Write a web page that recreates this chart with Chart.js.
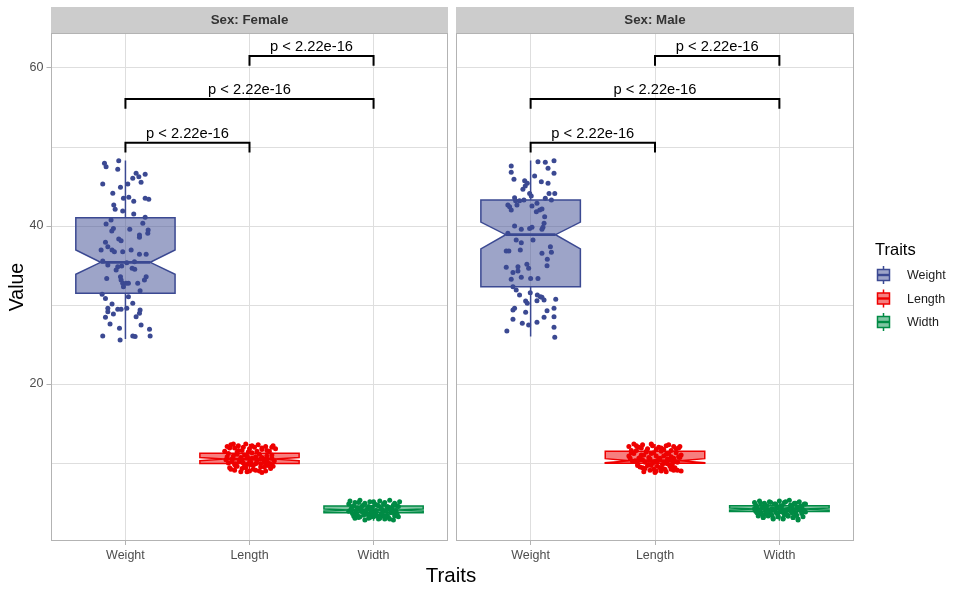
<!DOCTYPE html>
<html><head><meta charset="utf-8">
<script src="https://cdn.jsdelivr.net/npm/chart.js@4.4.1/dist/chart.umd.min.js"></script>
<style>
html,body{margin:0;padding:0;background:#fff;}
#wrap{position:relative;width:960px;height:593px;overflow:hidden;font-family:"Liberation Sans",Arial,sans-serif;}
#c1{position:absolute;left:0;top:0;}
#c2{position:absolute;left:452px;top:0;}
#xt{position:absolute;left:0;width:902px;top:563px;line-height:24px;text-align:center;font-size:20.5px;color:#000;}
</style></head><body>
<div id="wrap">
<canvas id="c1" width="452" height="593"></canvas>
<canvas id="c2" width="508" height="593"></canvas>
<div id="xt">Traits</div>
</div>
<script>
// ---------- data ----------
const categories = ['Weight','Length','Width'];
const panelTitles = ['Sex: Female','Sex: Male'];
const yTicks = [10,20,30,40,50,60];
const yLabels = [20,40,60];
const pLabel = 'p < 2.22e-16';
const bracketFrom = [1,1,2];
const bracketTo = [2,3,3];
const bracketY = [50.54,56.08,61.52];
const bracketDrop = 1.25;

// box statistics per category (Weight, Length, Width)
const femaleLow = [25.7, 8.8, 2.7];
const femaleQ1 = [31.5, 9.95, 3.71];
const femaleMed = [35.4, 10.5, 4.05];
const femaleQ3 = [41.05, 11.25, 4.56];
const femaleHigh = [48.3, 12.4, 5.3];
const femaleNotchLo = [33.9, 10.3, 3.92];
const femaleNotchHi = [36.96, 10.7, 4.18];

const maleLow = [26.0, 8.8, 2.7];
const maleQ1 = [32.3, 9.98, 3.86];
const maleMed = [38.9, 10.3, 4.18];
const maleQ3 = [43.3, 11.5, 4.6];
const maleHigh = [48.3, 12.4, 5.3];
const maleNotchLo = [37.1, 10.05, 4.05];
const maleNotchHi = [40.5, 10.55, 4.31];

// jittered points: horizontal jitter offset and value
const fWeightDx = [-0.169,-0.156,-0.054,-0.062,0.086,0.059,0.108,0.159,0.126,-0.183,0.019,-0.040,-0.102,-0.016,0.027,0.159,0.188,0.067,-0.094,-0.083,-0.022,0.067,0.159,-0.116,-0.156,-0.097,-0.110,0.035,0.140,0.183,0.180,0.113,0.113,-0.054,-0.035,-0.161,-0.142,-0.196,-0.108,-0.089,0.046,-0.022,0.113,0.167,-0.183,-0.142,-0.062,-0.075,-0.030,0.054,0.075,0.011,0.073,-0.151,-0.040,-0.035,0.167,0.153,-0.022,-0.016,0.005,0.024,0.099,0.118,-0.188,-0.161,0.024,0.059,-0.108,-0.142,-0.142,-0.062,-0.035,0.011,0.118,0.113,-0.161,-0.097,-0.124,0.086,0.126,-0.048,0.194,-0.183,-0.043,0.059,0.078,0.199];
const fWeightVal = [47.93,47.51,48.27,47.17,46.67,46.03,46.24,46.54,45.53,45.32,45.32,44.90,44.14,43.50,43.63,43.50,43.38,43.12,42.66,42.11,41.90,41.52,41.10,40.76,40.25,39.70,39.37,39.58,40.34,39.49,39.07,38.86,38.57,38.35,38.14,37.93,37.38,36.96,36.96,36.75,36.96,36.75,36.41,36.41,35.57,35.06,34.85,34.43,34.94,34.64,34.52,35.36,35.49,33.37,33.59,33.16,33.59,33.16,32.74,32.32,32.74,32.74,32.74,31.81,31.35,30.84,31.06,30.21,30.13,29.58,29.16,29.45,29.45,29.58,29.37,28.95,28.44,28.86,27.59,28.52,27.47,27.05,26.92,26.08,25.57,26.08,26.00,26.08];
const fLengthDx = [-0.18,-0.15,-0.12,-0.09,-0.06,-0.03,0.00,0.04,0.07,0.10,0.13,0.16,0.19,-0.17,-0.13,-0.10,-0.07,-0.04,-0.01,0.02,0.05,0.08,0.11,0.14,0.18,-0.19,-0.14,-0.11,-0.08,-0.05,-0.02,0.01,0.03,0.06,0.09,0.12,0.15,0.20,-0.16,-0.12,-0.06,-0.02,0.03,0.08,0.12,0.17,-0.10,0.00,0.10,0.15,
  -0.20,-0.16,-0.13,-0.09,-0.05,-0.01,0.02,0.06,0.10,0.14,0.18,0.21,-0.18,-0.14,-0.10,-0.06,-0.02,0.02,0.06,0.10,0.14,0.18,-0.17,-0.12,-0.08,-0.04,0.00,0.05,0.09,0.13,0.17,-0.15,-0.11,-0.07,-0.03,0.01,0.05,0.09,0.13,0.19];
const fLengthVal = [12.1,12.3,11.9,12.2,11.6,12.4,11.8,12.0,12.3,11.7,12.1,11.5,12.2,11.2,10.9,11.4,10.7,11.0,10.6,11.3,10.8,11.1,10.5,10.9,11.0,10.4,10.2,9.9,10.3,10.0,9.8,10.1,9.7,10.4,9.9,10.2,10.0,10.3,9.4,9.1,9.3,8.9,9.2,9.0,9.5,9.3,9.6,9.0,8.8,9.7,
  11.5,11.9,12.4,11.6,12.0,11.4,12.2,11.5,11.9,11.6,12.0,11.8,10.8,10.5,11.1,10.4,10.9,10.6,10.3,10.7,10.4,10.6,10.0,9.8,10.2,9.6,10.1,9.9,10.5,9.8,9.9,9.2,9.6,8.9,9.4,9.8,9.1,9.5,9.0,9.6];
const fWidthDx = [-0.19,-0.15,-0.11,-0.07,-0.03,0.01,0.05,0.09,0.13,0.17,0.21,-0.17,-0.13,-0.09,-0.05,-0.01,0.03,0.07,0.11,0.15,0.19,-0.20,-0.14,-0.10,-0.06,-0.02,0.02,0.06,0.10,0.14,0.18,-0.16,-0.12,-0.08,-0.04,0.00,0.04,0.08,0.12,0.16,0.20,-0.18,-0.03,0.09,0.17,
  -0.20,-0.16,-0.12,-0.08,-0.04,0.00,0.04,0.08,0.12,0.16,0.20,-0.18,-0.14,-0.10,-0.06,-0.02,0.02,0.06,0.10,0.14,0.18,-0.17,-0.13,-0.09,-0.05,-0.01,0.03,0.07,0.11,0.15,0.19,-0.15,-0.11,-0.07,-0.03,0.01,0.05,0.09,0.13,0.17];
const fWidthVal = [5.2,5.0,5.3,4.9,5.1,4.8,5.2,5.0,5.3,4.9,5.1,4.5,4.3,4.6,4.2,4.4,4.7,4.1,4.5,4.3,4.6,3.9,3.7,4.0,3.6,3.8,4.0,3.5,3.9,3.7,4.0,3.3,3.1,3.4,3.0,3.2,2.9,3.3,3.1,2.8,3.2,4.2,3.5,2.9,3.6,
  4.8,4.6,5.0,4.7,4.5,5.1,4.6,4.8,4.4,4.7,4.5,4.1,3.9,4.3,4.0,4.2,3.8,4.3,4.0,4.1,3.9,3.6,3.4,3.8,3.5,3.7,3.3,3.6,3.4,3.8,3.5,3.0,3.2,2.8,3.1,3.4,3.0,3.2,2.9,3.3];

const mWeightDx = [-0.156,-0.156,-0.134,0.059,0.118,0.188,0.140,0.188,0.032,0.086,0.140,-0.048,-0.027,-0.062,-0.043,-0.008,0.005,0.148,0.194,0.118,0.167,-0.129,-0.121,-0.089,-0.054,-0.183,-0.169,-0.156,-0.110,0.011,0.051,0.073,0.091,0.046,0.113,0.108,0.099,0.091,-0.129,-0.075,-0.008,0.011,-0.183,-0.116,-0.075,0.019,0.159,0.167,0.091,-0.196,-0.175,-0.083,0.134,0.132,-0.196,-0.102,-0.102,-0.142,-0.030,-0.016,-0.156,-0.075,0.000,0.059,-0.142,-0.116,-0.089,-0.003,0.054,0.078,0.091,0.108,0.051,-0.040,-0.027,0.202,-0.129,-0.142,-0.040,0.188,0.132,0.188,0.108,0.051,-0.016,-0.067,-0.142,-0.191,0.188,0.194];
const mWeightVal = [47.59,46.79,45.91,48.14,48.06,48.27,47.30,46.67,46.33,45.61,45.40,45.74,45.40,44.64,45.06,44.13,43.80,44.13,44.13,43.50,43.29,43.59,43.21,43.21,43.29,42.66,42.45,42.03,42.66,42.53,42.87,42.03,42.15,41.81,41.18,40.34,39.83,39.58,40.00,39.58,39.70,39.83,39.07,38.23,37.89,38.23,37.38,36.67,36.54,36.84,36.84,36.96,35.78,34.98,34.77,34.85,34.30,34.13,35.15,34.64,33.25,33.50,33.37,33.37,32.32,31.90,31.27,31.56,31.27,31.06,30.97,30.63,30.55,30.51,30.21,30.72,29.58,29.37,29.07,29.58,29.28,28.52,28.44,27.81,27.47,27.68,28.19,26.71,27.17,25.91];
const mLengthDx = [-0.21,-0.17,-0.13,-0.10,-0.06,-0.02,0.03,0.07,0.11,0.15,0.19,-0.19,-0.15,-0.11,-0.07,-0.03,0.01,0.05,0.09,0.13,0.17,0.21,-0.20,-0.16,-0.12,-0.08,-0.04,0.00,0.04,0.08,0.12,0.16,0.20,-0.14,-0.10,-0.05,-0.01,0.02,0.06,0.10,0.14,0.18,-0.09,-0.04,0.00,0.05,0.09,0.13,0.16,0.21,
  -0.19,-0.15,-0.11,-0.07,-0.03,0.01,0.05,0.09,0.13,0.17,0.20,-0.21,-0.17,-0.13,-0.09,-0.05,-0.01,0.03,0.07,0.11,0.15,0.19,-0.18,-0.14,-0.10,-0.06,-0.02,0.02,0.06,0.10,0.14,0.18,-0.12,-0.08,-0.03,0.01,0.04,0.08,0.12,0.15];
const mLengthVal = [12.1,12.4,12.0,12.3,11.8,12.2,12.0,11.7,12.3,12.1,11.9,11.3,11.6,11.0,11.4,11.2,10.9,11.5,11.1,10.8,11.3,11.0,10.6,10.3,10.7,10.1,10.5,10.2,10.6,10.0,10.4,10.2,10.7,9.7,9.4,9.8,9.2,9.6,9.3,9.9,9.5,9.1,8.9,9.1,8.8,9.0,8.9,9.2,9.4,9.0,
  11.6,12.2,11.9,11.5,12.4,11.7,11.9,12.2,11.6,11.8,12.1,10.9,11.2,10.6,11.0,10.7,11.3,10.5,10.9,11.2,10.6,10.8,10.2,9.9,10.4,9.7,10.0,10.3,9.8,10.5,9.9,10.1,9.5,9.3,9.7,9.0,9.4,9.2,9.6,9.1];
const mWidthDx = [-0.20,-0.16,-0.12,-0.08,-0.04,0.00,0.04,0.08,0.12,0.16,0.20,-0.18,-0.14,-0.10,-0.06,-0.02,0.02,0.06,0.10,0.14,0.18,-0.19,-0.15,-0.11,-0.07,-0.03,0.01,0.05,0.09,0.13,0.17,0.21,-0.17,-0.13,-0.09,-0.05,-0.01,0.03,0.07,0.11,0.15,0.19,-0.12,0.04,0.13,
  -0.19,-0.15,-0.11,-0.07,-0.03,0.01,0.05,0.09,0.13,0.17,0.21,-0.20,-0.16,-0.12,-0.08,-0.04,0.00,0.04,0.08,0.12,0.16,0.20,-0.18,-0.14,-0.10,-0.06,-0.02,0.02,0.06,0.10,0.14,0.18,-0.13,-0.09,-0.05,-0.01,0.03,0.07,0.11,0.15];
const mWidthVal = [5.0,5.2,4.9,5.1,4.8,5.2,5.0,5.3,4.9,5.1,4.8,4.5,4.3,4.6,4.2,4.4,4.6,4.1,4.5,4.3,4.4,3.9,3.7,4.0,3.6,3.8,4.0,3.6,3.9,3.7,4.0,3.8,3.3,3.1,3.4,3.0,3.2,2.9,3.3,3.1,2.8,3.2,3.5,3.5,3.4,
  4.7,4.9,4.6,5.0,4.8,4.6,5.1,4.7,4.9,4.6,4.8,4.2,4.0,4.3,3.9,4.1,4.3,4.0,4.2,3.9,4.1,4.0,3.7,3.5,3.8,3.4,3.6,3.8,3.5,3.7,3.4,3.6,3.1,3.3,2.9,3.2,3.0,3.3,3.1,2.9];

// ---------- styles ----------
const FONT = '"Liberation Sans", Arial, sans-serif';
const COLORS = ['#3B4992','#EE0000','#008B45'];
const FILLS = ['rgba(59,73,146,0.5)','rgba(238,0,0,0.5)','rgba(0,139,69,0.5)'];
const GRID = '#DEDEDE', BORDER = '#B3B3B3', TICKTXT = '#4D4D4D';
const Y_MIN = 0.13, Y_MAX = 64.43, X_MIN = 0.4, X_MAX = 3.6;
const BOX_HALF = 0.4, NOTCH_HALF = 0.2;

function pts(c, dx, val){ const n=Math.min(dx.length,val.length); const out=[]; for(let k=0;k<n;k++) out.push({x:c+dx[k], y:val[k]}); return out; }

function makeBoxPlugin(s){
  return { id:'boxes', beforeDatasetsDraw(chart){
    const {ctx, scales:{x, y}} = chart; const py = v => y.getPixelForValue(v);
    ctx.save();
    for(let i=0;i<3;i++){
      const c=i+1, xc=x.getPixelForValue(c), xl=x.getPixelForValue(c-BOX_HALF), xr=x.getPixelForValue(c+BOX_HALF);
      const nl=x.getPixelForValue(c-NOTCH_HALF), nr=x.getPixelForValue(c+NOTCH_HALF);
      ctx.strokeStyle=COLORS[i]; ctx.lineWidth=1.5; ctx.lineJoin='miter';
      ctx.beginPath(); ctx.moveTo(xc,py(s.q3[i])); ctx.lineTo(xc,py(s.hi[i])); ctx.moveTo(xc,py(s.q1[i])); ctx.lineTo(xc,py(s.lo[i])); ctx.stroke();
      ctx.beginPath();
      ctx.moveTo(xl,py(s.q3[i])); ctx.lineTo(xl,py(s.nhi[i])); ctx.lineTo(nl,py(s.med[i])); ctx.lineTo(xl,py(s.nlo[i])); ctx.lineTo(xl,py(s.q1[i]));
      ctx.lineTo(xr,py(s.q1[i])); ctx.lineTo(xr,py(s.nlo[i])); ctx.lineTo(nr,py(s.med[i])); ctx.lineTo(xr,py(s.nhi[i])); ctx.lineTo(xr,py(s.q3[i]));
      ctx.closePath(); ctx.fillStyle=FILLS[i]; ctx.fill(); ctx.stroke();
      ctx.lineWidth=2.8; ctx.beginPath(); ctx.moveTo(nl,py(s.med[i])); ctx.lineTo(nr,py(s.med[i])); ctx.stroke();
    }
    ctx.restore();
  }};
}

function makeDecorPlugin(title, withLegend){
  return { id:'decor',
    afterDatasetsDraw(chart){
      const {ctx, scales:{x, y}} = chart; ctx.save();
      ctx.strokeStyle='#000'; ctx.lineWidth=2; ctx.fillStyle='#000';
      ctx.font='14.7px '+FONT; ctx.textAlign='center'; ctx.textBaseline='alphabetic';
      for(let b=0;b<bracketY.length;b++){
        const x1=x.getPixelForValue(bracketFrom[b]), x2=x.getPixelForValue(bracketTo[b]);
        const yl=y.getPixelForValue(bracketY[b]), yd=y.getPixelForValue(bracketY[b]-bracketDrop);
        ctx.beginPath(); ctx.moveTo(x1,yd); ctx.lineTo(x1,yl); ctx.lineTo(x2,yl); ctx.lineTo(x2,yd); ctx.stroke();
        ctx.fillText(pLabel,(x1+x2)/2,yl-5);
      }
      ctx.restore();
    },
    afterDraw(chart){
      const {ctx, chartArea:a} = chart; ctx.save();
      ctx.strokeStyle=BORDER; ctx.lineWidth=1;
      ctx.strokeRect(a.left+0.5,a.top+0.5,a.right-a.left-1,a.bottom-a.top-1);
      ctx.fillStyle='#CCCCCC'; ctx.fillRect(a.left,a.top-26,a.right-a.left,26);
      ctx.fillStyle='#333333'; ctx.font='bold 13.3px '+FONT; ctx.textAlign='center'; ctx.textBaseline='middle';
      ctx.fillText(title,(a.left+a.right)/2,a.top-13);
      if(withLegend){
        const lx=a.right;
        ctx.textAlign='left'; ctx.fillStyle='#000'; ctx.font='16.5px '+FONT;
        ctx.fillText('Traits',lx+21,250);
        const ky=[275,298.5,322];
        for(let i=0;i<3;i++){
          const kx=lx+29.5, yy=ky[i];
          ctx.strokeStyle=COLORS[i]; ctx.lineWidth=1.5;
          ctx.beginPath(); ctx.moveTo(kx,yy-9); ctx.lineTo(kx,yy-5.5); ctx.moveTo(kx,yy+5.5); ctx.lineTo(kx,yy+9); ctx.stroke();
          ctx.fillStyle=FILLS[i]; ctx.fillRect(kx-6,yy-5.5,12,11); ctx.strokeRect(kx-6,yy-5.5,12,11);
          ctx.lineWidth=2.4; ctx.beginPath(); ctx.moveTo(kx-6,yy); ctx.lineTo(kx+6,yy); ctx.stroke();
          ctx.fillStyle='#1A1A1A'; ctx.font='12.5px '+FONT; ctx.fillText(categories[i],lx+53,yy+1);
        }
      }
      ctx.restore();
    }
  };
}

function datasets(wd,wv,ld,lv,dd,dv){
  const arr=[[wd,wv],[ld,lv],[dd,dv]];
  return arr.map((p,i)=>({label:categories[i], data:pts(i+1,p[0],p[1]), backgroundColor:COLORS[i], borderColor:COLORS[i], borderWidth:0, pointRadius:2.5}));
}

function xScale(){
  return { type:'linear', min:X_MIN, max:X_MAX,
    afterBuildTicks: s => { s.ticks = categories.map((c,i)=>({value:i+1})); },
    afterFit: s => { s.height = 52; },
    ticks:{ autoSkip:false, maxRotation:0, padding:3, color:TICKTXT, font:{family:FONT,size:12.5}, callback: v => categories[Math.round(v)-1] },
    grid:{ color:GRID, lineWidth:1, tickLength:4, tickColor:BORDER },
    border:{ display:false }
  };
}

function yScale(first){
  return { type:'linear', min:Y_MIN, max:Y_MAX,
    afterBuildTicks: s => { s.ticks = yTicks.map(v=>({value:v})); },
    afterFit: s => { s.width = first ? 51 : 4; },
    ticks:{ display:first, autoSkip:false, padding:3, color:TICKTXT, font:{family:FONT,size:12.5}, callback: v => yLabels.includes(v) ? String(v) : '' },
    grid:{ color:GRID, lineWidth:1, drawTicks:first, tickLength:4.5, tickColor: c => (c.tick && yLabels.includes(c.tick.value)) ? BORDER : 'rgba(0,0,0,0)' },
    border:{ display:false },
    title:{ display:first, text:'Value', color:'#000', font:{family:FONT,size:19.5}, padding:{top:6,bottom:0} }
  };
}

function build(id, title, ds, stats, first){
  return new Chart(document.getElementById(id), {
    type:'scatter',
    data:{ datasets: ds },
    options:{
      responsive:false, animation:false, events:[],
      layout:{ padding: first ? {left:0,top:33,right:3,bottom:0} : {left:0,top:33,right:106,bottom:0} },
      scales:{ x:xScale(), y:yScale(first) },
      plugins:{ legend:{display:false}, tooltip:{enabled:false} }
    },
    plugins:[makeBoxPlugin(stats), makeDecorPlugin(title, !first)]
  });
}

build('c1', panelTitles[0], datasets(fWeightDx,fWeightVal,fLengthDx,fLengthVal,fWidthDx,fWidthVal),
  {lo:femaleLow,q1:femaleQ1,med:femaleMed,q3:femaleQ3,hi:femaleHigh,nlo:femaleNotchLo,nhi:femaleNotchHi}, true);
build('c2', panelTitles[1], datasets(mWeightDx,mWeightVal,mLengthDx,mLengthVal,mWidthDx,mWidthVal),
  {lo:maleLow,q1:maleQ1,med:maleMed,q3:maleQ3,hi:maleHigh,nlo:maleNotchLo,nhi:maleNotchHi}, false);
</script>
</body></html>
